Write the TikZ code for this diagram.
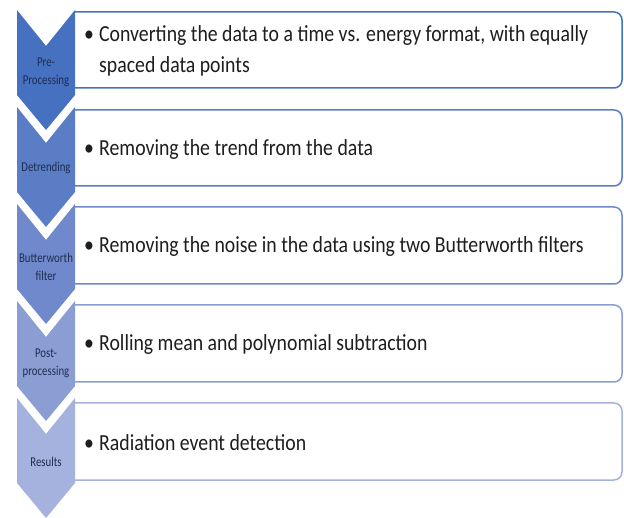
\documentclass[tikz,border=0pt]{standalone}
\usepackage{fontspec}
\setmainfont{Carlito}
\newfontfamily\bodyf[FakeStretch=0.86]{Carlito}
\newfontfamily\labf[FakeStretch=0.8]{Carlito}
\definecolor{cA}{HTML}{4670C0}
\definecolor{cB}{HTML}{5A7DC6}
\definecolor{cC}{HTML}{7089CC}
\definecolor{cD}{HTML}{8A9ED4}
\definecolor{cE}{HTML}{A5B2DE}
\definecolor{txt}{HTML}{1E1E1E}
\definecolor{labc}{HTML}{1F2D50}
\begin{document}
\begin{tikzpicture}[x=1pt,y=-1pt,
  body/.style={anchor=base west, inner sep=0pt, font=\bodyf\fontsize{23}{31}\selectfont, text=txt},
  lab/.style={align=center, inner sep=0pt, font=\labf\fontsize{13.5}{18}\selectfont, text=labc},
  boxln/.style={draw=#1, line width=1.5pt, fill=white, rounded corners=8pt}]
\useasboundingbox (0,0) rectangle (624,518);
% text boxes
\foreach \t/\b/\c in {12/88/cA,110/186/cB,207/284/cC,305/382/cD,403/480/cE}{
  \path[boxln=\c] (75,\t) -- (622,\t) -- (622,\b) -- (75,\b);
}
% chevrons
\foreach \t/\c in {10/cA,107/cB,204/cC,301/cD,398/cE}{
  \fill[\c] (17,\t) -- (46,\t+36) -- (75,\t) -- (75,\t+85) -- (46,\t+120) -- (17,\t+85) -- cycle;
}
% chevron labels
\node[lab] (c1) at (46,72) {Pre-\\Processing};
\node[lab] (c2) at (46,168) {Detrending};
\node[lab] (c3) at (46,267) {Butterworth\\filter};
\node[lab] (c4) at (46,363) {Post-\\processing};
\node[lab] (c5) at (46,462) {Results};
% bullets and texts
\node[body] (b1) at (84,42) {•};
\node[body] (t1a) at (99,42) {Converting the data to a time vs. energy format, with equally};
\node[body] (t1b) at (99,73) {spaced data points};
\node[body] (b2) at (84,156) {•};
\node[body] (t2) at (99,156) {Removing the trend from the data};
\node[body] (b3) at (84,253) {•};
\node[body] (t3) at (99,253) {Removing the noise in the data using two Butterworth filters};
\node[body] (b4) at (84,351) {•};
\node[body] (t4) at (99,351) {Rolling mean and polynomial subtraction};
\node[body] (b5) at (84,450) {•};
\node[body] (t5) at (99,450) {Radiation event detection};
\end{tikzpicture}
\end{document}
